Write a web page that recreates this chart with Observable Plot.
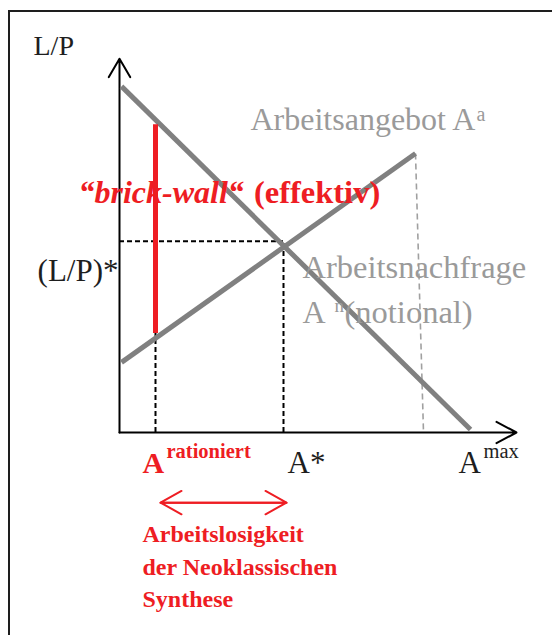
<!DOCTYPE html>
<html><head><meta charset="utf-8">
<script src="https://cdn.jsdelivr.net/npm/d3@7"></script>
<script src="https://cdn.jsdelivr.net/npm/@observablehq/plot@0.6"></script>
<style>
html,body{margin:0;padding:0;background:#fff;}
#wrap{position:relative;width:552px;height:635px;overflow:hidden;}
#frame{position:absolute;left:8px;top:10px;width:600px;height:700px;border-left:2px solid #1e1e1e;border-top:2px solid #1e1e1e;pointer-events:none;}
svg{display:block;}
</style></head><body><div id="wrap"><div id="frame"></div></div>
<script>
// Data (x: Arbeit A, y: Reallohn L/P; arbitrary units)
const demandA = [0.5, 87.75];
const demandLP = [92.3, 0.8];
const supplyA = [0.5, 74];
const supplyLP = [18.7, 74.4];
const aStar = 41;
const lpStar = 51;
const aRat = 9;
const wallLP = [26.4, 82.1];
const aMaxTop = [74, 74.4];
const aMaxBottom = [76, 0];
const unemploymentSpan = [10.25, 41.75];
const axisEnds = [99.25, 99.7];
const texts = {
  yLabel: "L/P", lpStar: "(L/P)*", supply: "Arbeitsangebot A", supplySup: "a",
  demand1: "Arbeitsnachfrage", demand2: "A", demandSup: "n", demand3: "(notional)",
  wall1: "\u201Cbrick-wall\u201C", wall2: "(effektiv)",
  aRat: "A", aRatSup: "rationiert", aStar: "A*", aMax: "A", aMaxSup: "max",
  note: ["Arbeitslosigkeit", "der Neoklassischen", "Synthese"]
};

const RED = "#ee1d23", GRAYL = "#808080", GRAYT = "#9a9a9a", BLACK = "#1e1e1e";
const SERIF = "Liberation Serif, Times New Roman, serif";
const demand = demandA.map((a, i) => ({a, lp: demandLP[i]}));
const supply = supplyA.map((a, i) => ({a, lp: supplyLP[i]}));

function label(t, x, y, o = {}) {
  return Plot.text([t], {x, y, text: d => d, textAnchor: "start", lineAnchor: "bottom",
    fontFamily: SERIF, fontSize: 31, fill: BLACK, ...o});
}

const dash = {stroke: "#000", strokeWidth: 2, strokeDasharray: "5,3"};

const chart = Plot.plot({
  width: 552, height: 635, margin: 0,
  x: {domain: [0, 100], range: [119, 519], axis: null},
  y: {domain: [0, 100], range: [432, 57], axis: null},
  style: {background: "transparent", overflow: "visible"},
  marks: [
    // axes
    Plot.arrow([0], {x1: 0, y1: 0, x2: 0, y2: axisEnds[1], stroke: "#000", strokeWidth: 2, headLength: 16, headAngle: 60}),
    Plot.arrow([0], {x1: 0, y1: 0, x2: axisEnds[0], y2: 0, stroke: "#000", strokeWidth: 2, headLength: 17, headAngle: 56}),
    // dashed guides
    Plot.ruleY([lpStar], {x1: 0, x2: aStar, ...dash}),
    Plot.ruleX([aStar], {y1: 0, y2: lpStar, ...dash}),
    Plot.ruleX([aRat], {y1: 0, y2: wallLP[0], ...dash}),
    Plot.link([0], {x1: aMaxTop[0], y1: aMaxTop[1], x2: aMaxBottom[0], y2: aMaxBottom[1], stroke: "#a0a0a0", strokeWidth: 1.6, strokeDasharray: "6,4"}),
    // curves
    Plot.line(demand, {x: "a", y: "lp", stroke: GRAYL, strokeWidth: 5, strokeLinecap: "butt"}),
    Plot.line(supply, {x: "a", y: "lp", stroke: GRAYL, strokeWidth: 5, strokeLinecap: "butt"}),
    // brick wall
    Plot.ruleX([aRat], {y1: wallLP[0], y2: wallLP[1], stroke: RED, strokeWidth: 5}),
    // unemployment double arrow
    Plot.arrow([0], {x1: unemploymentSpan[0], x2: unemploymentSpan[1], y1: -18.7, y2: -18.7, stroke: RED, strokeWidth: 2, headLength: 18, headAngle: 58}),
    Plot.arrow([0], {x1: unemploymentSpan[1], x2: unemploymentSpan[0], y1: -18.7, y2: -18.7, stroke: RED, strokeWidth: 2, headLength: 18, headAngle: 58}),
    // texts
    label(texts.yLabel, -21.5, 100.8, {fontSize: 28}),
    label(texts.lpStar, -0.25, 40.5, {textAnchor: "end", fontSize: 31}),
    label(texts.supply, 32.75, 80.8, {fill: GRAYT, fontSize: 32}),
    label(texts.supplySup, 89.25, 83.2, {fill: GRAYT, fontSize: 20}),
    label(texts.demand1, 45.75, 41.3, {fill: GRAYT, fontSize: 32.5}),
    label(texts.demand2, 45.75, 29.3, {fill: GRAYT, fontSize: 32}),
    label(texts.demandSup, 53.75, 32.2, {fill: GRAYT, fontSize: 19}),
    label(texts.demand3, 56.25, 29.3, {fill: GRAYT, fontSize: 32.5}),
    label(texts.wall1, -10.25, 61.07, {fill: RED, fontSize: 32, fontWeight: "bold", fontStyle: "italic"}),
    label(texts.wall2, 33.6, 61.07, {fill: RED, fontSize: 32.5, fontWeight: "bold"}),
    label(texts.aRat, 5.75, -10.93, {fill: RED, fontSize: 30, fontWeight: "bold"}),
    label(texts.aRatSup, 11.75, -6.93, {fill: RED, fontSize: 20.5, fontWeight: "bold"}),
    label(texts.aStar, 42, -10.93, {fontSize: 31}),
    label(texts.aMax, 84.75, -10.93, {fontSize: 31}),
    label(texts.aMaxSup, 91, -6.93, {fontSize: 20.5}),
    label(texts.note[0], 5.75, -29.33, {fill: RED, fontSize: 24, fontWeight: "bold"}),
    label(texts.note[1], 5.75, -37.87, {fill: RED, fontSize: 24, fontWeight: "bold"}),
    label(texts.note[2], 5.75, -46.4, {fill: RED, fontSize: 24, fontWeight: "bold"})
  ]
});
document.getElementById("wrap").prepend(chart);
</script></body></html>
